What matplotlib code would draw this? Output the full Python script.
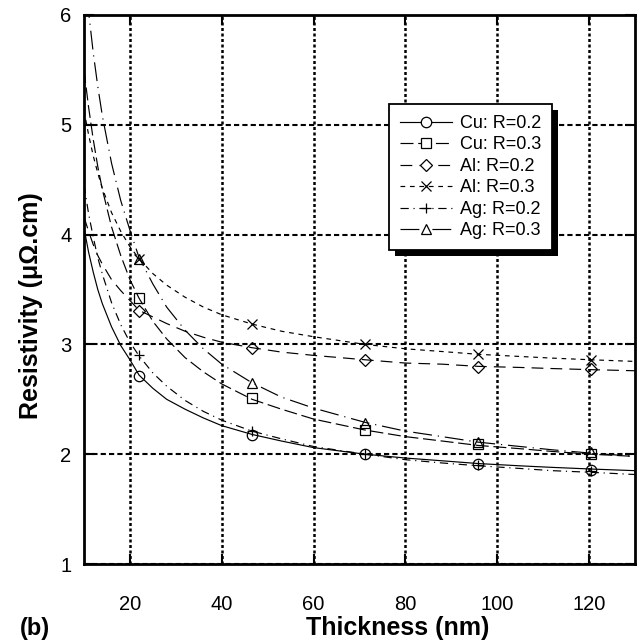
import matplotlib
matplotlib.use("Agg")
import matplotlib.pyplot as plt
from matplotlib.lines import Line2D
from matplotlib.patches import Rectangle
from matplotlib.transforms import IdentityTransform

plt.rcParams['font.family'] = ['Liberation Sans', 'DejaVu Sans']

# ---- data ----
thickness = [10, 11, 12, 13, 14, 16, 18, 20, 22, 25, 28, 32, 36, 40, 46.6,
             53, 60, 71.2, 80, 88, 95.8, 105, 112, 120.4, 130]
marker_thickness = [22, 46.6, 71.2, 95.8, 120.4]

cu_02 = [4.06, 3.84, 3.66, 3.50, 3.37, 3.16, 2.99, 2.86, 2.72, 2.60, 2.50, 2.41, 2.33,
         2.26, 2.18, 2.12, 2.06, 2.00, 1.965, 1.94, 1.915, 1.894, 1.88, 1.865, 1.85]
cu_02_pts = [2.71, 2.175, 2.00, 1.91, 1.86]

cu_03 = [5.50, 5.16, 4.87, 4.62, 4.41, 4.07, 3.81, 3.59, 3.42, 3.21, 3.05, 2.88, 2.75,
         2.64, 2.50, 2.41, 2.32, 2.22, 2.16, 2.12, 2.08, 2.05, 2.025, 2.00, 1.98]
cu_03_pts = [3.42, 2.51, 2.22, 2.09, 2.00]

al_02 = [4.16, 4.03, 3.91, 3.81, 3.73, 3.59, 3.49, 3.40, 3.31, 3.25, 3.19, 3.12, 3.065,
         3.02, 2.97, 2.93, 2.90, 2.86, 2.83, 2.82, 2.80, 2.79, 2.78, 2.77, 2.76]
al_02_pts = [3.30, 2.97, 2.855, 2.79, 2.775]

al_03 = [5.13, 4.91, 4.72, 4.56, 4.42, 4.20, 4.03, 3.89, 3.78, 3.645, 3.54, 3.43, 3.34,
         3.27, 3.185, 3.12, 3.07, 3.00, 2.96, 2.935, 2.91, 2.89, 2.875, 2.86, 2.845]
al_03_pts = [3.78, 3.19, 3.00, 2.91, 2.86]

ag_02 = [4.45, 4.19, 3.98, 3.79, 3.64, 3.38, 3.18, 3.02, 2.895, 2.74, 2.62, 2.49, 2.39,
         2.31, 2.21, 2.14, 2.07, 2.00, 1.95, 1.92, 1.895, 1.87, 1.85, 1.835, 1.815]
ag_02_pts = [2.90, 2.21, 2.00, 1.90, 1.845]

ag_03 = [6.47, 6.03, 5.66, 5.35, 5.08, 4.65, 4.31, 4.04, 3.79, 3.55, 3.34, 3.13, 2.96,
         2.82, 2.65, 2.52, 2.42, 2.29, 2.21, 2.16, 2.11, 2.07, 2.04, 2.01, 1.98]
ag_03_pts = [3.78, 2.65, 2.28, 2.11, 2.02]

labels = ["Cu: R=0.2", "Cu: R=0.3", "Al: R=0.2", "Al: R=0.3", "Ag: R=0.2", "Ag: R=0.3"]
x_ticks = [20, 40, 60, 80, 100, 120]
y_ticks = [1, 2, 3, 4, 5, 6]

series = [
    (labels[0], cu_02, cu_02_pts, 'o', '-'),
    (labels[1], cu_03, cu_03_pts, 's', (0, (11, 4))),
    (labels[2], al_02, al_02_pts, 'D', (0, (10, 6))),
    (labels[3], al_03, al_03_pts, 'x', (0, (4, 4))),
    (labels[4], ag_02, ag_02_pts, '+', (0, (7, 4, 1, 4))),
    (labels[5], ag_03, ag_03_pts, '^', (0, (16, 5, 1, 5))),
]

fig = plt.figure(figsize=(6.42, 6.43), dpi=100)
ax = fig.add_axes([84 / 642, 1 - 564 / 643, 551 / 642, 549 / 643])

handles = []
for lab, curve, pts, m, ls in series:
    ms = 6 if m == 'D' else 7.5
    ax.plot(thickness, curve, color='black', lw=0.85, linestyle=ls, zorder=3)
    ax.plot(marker_thickness, pts, linestyle='none', marker=m, mfc='none',
            mec='black', ms=ms, mew=0.9, zorder=4)
    handles.append(Line2D([], [], color='black', lw=0.85, linestyle=ls, marker=m,
                          mfc='white', mec='black', ms=ms, mew=0.9, label=lab))

ax.set_xlim(10, 130)
ax.set_ylim(1, 6)
ax.set_xticks(x_ticks)
ax.set_yticks(y_ticks)

ax.xaxis.grid(True, color='black', linestyle=(0, (1.2, 1.0)), lw=1.8)
ax.yaxis.grid(True, color='black', linestyle=(0, (2.5, 1.5)), lw=1.5)
ax.set_axisbelow(True)

for s in ax.spines.values():
    s.set_linewidth(2.0)

ax.tick_params(axis='both', which='both', direction='in', length=7, width=1.5,
               top=True, right=True, labelsize=14.5)
ax.tick_params(axis='x', pad=22)
ax.tick_params(axis='y', pad=9)

ax.set_xlabel("Thickness (nm)", fontsize=18, fontweight='bold')
ax.xaxis.set_label_coords(0.57, -0.094)
ax.set_ylabel("Resistivity (\u03bc\u03a9.cm)", fontsize=18, fontweight='bold')
ax.yaxis.set_label_coords(-0.074, 0.47)

fig.text(35 / 642, 1 - 628 / 643, "(b)", fontsize=17, fontweight='bold',
         ha='center', va='center')

leg = ax.legend(handles=handles, loc='upper left',
                bbox_to_anchor=(389 / 642, 1 - 104 / 643), bbox_transform=fig.transFigure,
                borderaxespad=0, fontsize=13, handlelength=2.9, handletextpad=0.45,
                labelspacing=0.25, borderpad=0.6, fancybox=False, framealpha=1,
                edgecolor='black', numpoints=1)
leg.get_frame().set_linewidth(1.3)
leg.set_zorder(10)

fig.canvas.draw()
bb = leg.get_window_extent()
off = 6
shadow = Rectangle((bb.x0 + off, bb.y0 - off), bb.width, bb.height,
                   transform=IdentityTransform(), facecolor='black', edgecolor='none',
                   zorder=9.5, clip_on=False)
ax.add_patch(shadow)

fig.savefig("out.png", dpi=100)
